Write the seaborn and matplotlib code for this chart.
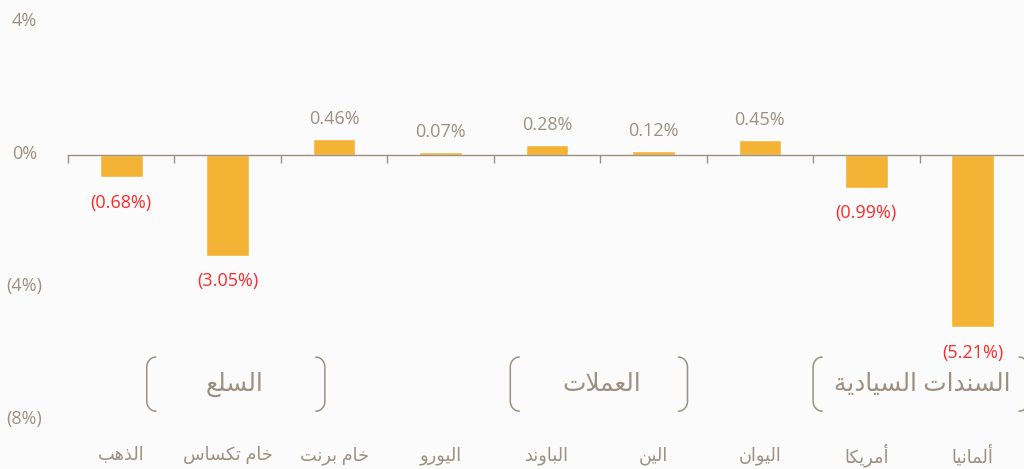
import numpy as np
import matplotlib
matplotlib.use("Agg")
import matplotlib.pyplot as plt
import matplotlib.transforms as mtransforms
import seaborn as sns

# ---------------- data ----------------
categories = ["الذهب", "خام تكساس", "خام برنت", "اليورو", "الباوند",
              "الين", "اليوان", "أمريكا", "ألمانيا"]
values = [-0.68, -3.05, 0.46, 0.07, 0.28, 0.12, 0.45, -0.99, -5.21]
groups = ["السلع", "العملات", "السندات السيادية"]
ytick_values = [4, 0, -4, -8]
ytick_labels = ["4%", "0%", "(4%)", "(8%)"]

# ---------------- layout / style ----------------
BG = "#fbfbfb"
BAR = "#f5b335"
GREY = "#9d9081"
RED = "#ff2b2b"
group_left = [0.24, 3.655, 6.5]
group_right = [1.913, 5.32, 8.52]
group_label_x = [1.06, 4.51, 7.53]


def shape_arabic(text):
    """Minimal Arabic shaping (contextual forms) + RTL ordering."""
    forms = {
        'ا': (0xFE8D, 0xFE8E, None, None),
        'أ': (0xFE83, 0xFE84, None, None),
        'ب': (0xFE8F, 0xFE90, 0xFE91, 0xFE92),
        'ة': (0xFE93, 0xFE94, None, None),
        'ت': (0xFE95, 0xFE96, 0xFE97, 0xFE98),
        'خ': (0xFEA5, 0xFEA6, 0xFEA7, 0xFEA8),
        'د': (0xFEA9, 0xFEAA, None, None),
        'ذ': (0xFEAB, 0xFEAC, None, None),
        'ر': (0xFEAD, 0xFEAE, None, None),
        'س': (0xFEB1, 0xFEB2, 0xFEB3, 0xFEB4),
        'ع': (0xFEC9, 0xFECA, 0xFECB, 0xFECC),
        'ك': (0xFED9, 0xFEDA, 0xFEDB, 0xFEDC),
        'ل': (0xFEDD, 0xFEDE, 0xFEDF, 0xFEE0),
        'م': (0xFEE1, 0xFEE2, 0xFEE3, 0xFEE4),
        'ن': (0xFEE5, 0xFEE6, 0xFEE7, 0xFEE8),
        'ه': (0xFEE9, 0xFEEA, 0xFEEB, 0xFEEC),
        'و': (0xFEED, 0xFEEE, None, None),
        'ي': (0xFEF1, 0xFEF2, 0xFEF3, 0xFEF4),
        '\uFEFB': (0xFEFB, 0xFEFC, None, None),
    }
    t = text.replace('لا', '\uFEFB')
    out = []
    n = len(t)
    for i, ch in enumerate(t):
        if ch not in forms:
            out.append(ch)
            continue
        f = forms[ch]
        prev = t[i - 1] if i > 0 else None
        nxt = t[i + 1] if i + 1 < n else None
        pj = prev in forms and forms[prev][2] is not None
        nj = f[2] is not None and nxt in forms
        if pj and nj:
            c = f[3]
        elif pj:
            c = f[1]
        elif nj:
            c = f[2]
        else:
            c = f[0]
        out.append(chr(c))
    return "".join(out[::-1])


sns.set_theme(style="white")
plt.rcParams['font.family'] = ['Open Sans', 'DejaVu Sans']

fig = plt.figure(figsize=(10.24, 4.69), dpi=100, facecolor=BG)
ax = fig.add_axes([68 / 1024, 1 - 420 / 469, 958 / 1024, 398 / 469])
ax.set_facecolor(BG)

sns.barplot(x=categories, y=values, order=categories, color=BAR,
            saturation=1, width=0.4, ax=ax)
ax.set_xlim(-0.5, len(categories) - 0.5)
ax.set_ylim(-8, 4)

for s in ["top", "right", "left"]:
    ax.spines[s].set_visible(False)
ax.spines["bottom"].set_position(("data", 0))
ax.spines["bottom"].set_color(GREY)
ax.spines["bottom"].set_linewidth(1.0)

ax.set_xticks([])
ax.set_xticks(np.arange(-0.5, len(categories), 1), minor=True)
ax.tick_params(axis="x", which="minor", length=6, width=1, color=GREY,
               direction="out", bottom=True)
ax.set_xlabel("")

ax.set_yticks(ytick_values)
ax.set_yticklabels(ytick_labels)
ax.tick_params(axis="y", length=0, pad=31.5, labelsize=13, labelcolor=GREY)
shift = mtransforms.ScaledTranslation(0, 3 / 100, fig.dpi_scale_trans)
for lbl in ax.get_yticklabels():
    lbl.set_horizontalalignment("center")
    lbl.set_transform(lbl.get_transform() + shift)
ax.grid(False)

# value labels
pos_labels = [f"{v:.2f}%" if v >= 0 else "" for v in values]
neg_labels = [f"({abs(v):.2f}%)" if v < 0 else "" for v in values]
tp = ax.bar_label(ax.containers[0], labels=pos_labels, padding=8,
                  fontsize=13, color=GREY)
tn = ax.bar_label(ax.containers[0], labels=neg_labels, padding=12,
                  fontsize=13, color=RED)

# category labels
for i, c in enumerate(categories):
    ax.text(i, -9.07, shape_arabic(c), ha="center", va="center",
            fontsize=12.8, color=GREY, clip_on=False)

# group brackets
def bracket(x0, x1, y_top, y_bot, cx=0.085, cy=0.30):
    t = np.linspace(0, np.pi / 2, 20)
    xs = np.concatenate([x0 + cx - cx * np.sin(t),
                         x0 + cx - cx * np.sin(t[::-1])])
    ys = np.concatenate([y_top - cy + cy * np.cos(t),
                         y_bot + cy - cy * np.cos(t[::-1])])
    ax.plot(xs, ys, color=GREY, lw=1.1, clip_on=False, solid_capstyle="round")
    xs2 = x1 - (xs - x0)
    ax.plot(xs2, ys, color=GREY, lw=1.1, clip_on=False, solid_capstyle="round")


y_top = (155 - 357) / 33.1
y_bot = (155 - 411) / 33.1
for g, xl, xr, xm in zip(groups, group_left, group_right, group_label_x):
    bracket(xl, xr, y_top, y_bot)
    ax.text(xm, (y_top + y_bot) / 2, shape_arabic(g), ha="center",
            va="center", fontsize=17.8, color=GREY)

fig.savefig("out.png", dpi=100, facecolor=BG)
